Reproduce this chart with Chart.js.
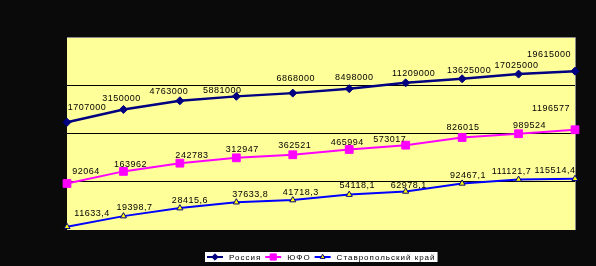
<!DOCTYPE html>
<html>
<head>
<meta charset="utf-8">
<script src="https://cdn.jsdelivr.net/npm/chart.js@4/dist/chart.umd.min.js"></script>
<style>
html, body { margin: 0; padding: 0; background: #0a0a0a; }
canvas { display: block; }
</style>
</head>
<body>
<canvas id="chart" width="596" height="266"></canvas>
<script>
// data
const categories = ['1', '2', '3', '4', '5', '6', '7', '8', '9', '10'];
const russia = [1707000, 3150000, 4763000, 5881000, 6868000, 8498000, 11209000, 13625000, 17025000, 19615000];
const yufo = [92064, 163962, 242783, 312947, 362521, 465994, 573017, 826015, 989524, 1196577];
const stavropol = [11633.4, 19398.7, 28415.6, 37633.8, 41718.3, 54118.1, 62978.1, 92467.1, 111121.7, 115514.4];
const seriesNames = ['Россия', 'ЮФО', 'Ставропольский край'];
const gridValues = [1e4, 1e5, 1e6, 1e7, 1e8];

// label nudges (px) relative to each point, as placed in the original
const labelDx = [
  [20, -2, -11, -14, 3, 5, 8, 7, -2, -26],
  [19, 7, 12, 6, 2, -2, -16, 1, 11, -24],
  [25, 11, 10, 14, 8, 8, 3, 6, -7, -20]
];
const labelDy = [
  [-15, -11, -9, -6, -15, -11, -9, -8, -9, -17],
  [-12, -7, -8, -8, -9, -7, -6, -10, -8, -21],
  [-13, -9, -8, -8, -8, -9, -6, -8, -8, -8]
];

const fmt = v => String(v).replace('.', ',');

const plotBg = {
  id: 'plotBg',
  beforeDraw(chart) {
    const {ctx, chartArea: a} = chart;
    ctx.save();
    ctx.fillStyle = '#ffff99';
    ctx.fillRect(a.left, a.top, a.right - a.left, a.bottom - a.top);
    ctx.strokeStyle = '#8a8a8a';
    ctx.lineWidth = 1;
    ctx.beginPath();
    ctx.moveTo(a.left, a.top + 0.5);
    ctx.lineTo(a.right + 0.5, a.top + 0.5);
    ctx.lineTo(a.right + 0.5, a.bottom);
    ctx.stroke();
    ctx.restore();
  }
};

const pointLabels = {
  id: 'pointLabels',
  afterDatasetsDraw(chart) {
    const ctx = chart.ctx;
    ctx.save();
    ctx.font = '9px "Liberation Sans", Arial, sans-serif';
    ctx.letterSpacing = '0.5px';
    ctx.fillStyle = '#000';
    ctx.textAlign = 'center';
    ctx.textBaseline = 'middle';
    chart.data.datasets.forEach((ds, i) => {
      chart.getDatasetMeta(i).data.forEach((pt, j) => {
        ctx.fillText(fmt(ds.data[j]), pt.x + labelDx[i][j], pt.y + labelDy[i][j]);
      });
    });
    ctx.restore();
  }
};

const boxLegend = {
  id: 'boxLegend',
  afterDraw(chart) {
    const {ctx, chartArea: a} = chart;
    ctx.save();
    ctx.font = '8px "Liberation Sans", Arial, sans-serif';
    ctx.letterSpacing = '1px';
    const symW = 16, gap = 6, itemGap = 4, pad = 2;
    const items = chart.data.datasets.map(ds => ({ds, w: ctx.measureText(ds.label).width}));
    const total = items.reduce((s, it) => s + symW + gap + it.w, 0) + itemGap * (items.length - 1) + pad * 2;
    let x = Math.round((a.left + a.right) / 2 - total / 2);
    const top = 252, h = 10, cy = top + h / 2;
    ctx.fillStyle = '#fff';
    ctx.fillRect(x, top, total, h);
    x += pad;
    items.forEach(it => {
      const ds = it.ds;
      ctx.strokeStyle = ds.borderColor;
      ctx.lineWidth = 2;
      ctx.beginPath();
      ctx.moveTo(x, cy);
      ctx.lineTo(x + symW, cy);
      ctx.stroke();
      ctx.fillStyle = ds.pointBackgroundColor;
      ctx.strokeStyle = ds.pointBorderColor;
      ctx.lineWidth = ds.pointBorderWidth;
      Chart.helpers.drawPoint(ctx, {pointStyle: ds.pointStyle, radius: ds.pointRadius * 0.8, borderWidth: ds.pointBorderWidth, rotation: 0}, x + symW / 2, cy);
      x += symW + gap;
      ctx.fillStyle = '#000';
      ctx.textBaseline = 'middle';
      ctx.fillText(ds.label, x, cy + 0.5);
      x += it.w + itemGap;
    });
    ctx.restore();
  }
};

new Chart(document.getElementById('chart'), {
  type: 'line',
  data: {
    labels: categories,
    datasets: [
      {
        label: seriesNames[0], data: russia,
        borderColor: '#000080', borderWidth: 2.5,
        pointStyle: 'rectRot', pointRadius: 4,
        pointBackgroundColor: '#000080', pointBorderColor: '#000080', pointBorderWidth: 1
      },
      {
        label: seriesNames[1], data: yufo,
        borderColor: '#ff00ff', borderWidth: 2,
        pointStyle: 'rect', pointRadius: 5.5,
        pointBackgroundColor: '#ff00ff', pointBorderColor: '#ff00ff', pointBorderWidth: 1
      },
      {
        label: seriesNames[2], data: stavropol,
        borderColor: '#0000ff', borderWidth: 2,
        pointStyle: 'triangle', pointRadius: 3.5,
        pointBackgroundColor: '#ffff00', pointBorderColor: '#000080', pointBorderWidth: 1
      }
    ]
  },
  options: {
    responsive: false,
    animation: false,
    clip: false,
    layout: { padding: { left: 67, right: 21, top: 37, bottom: 36 } },
    plugins: { legend: { display: false }, tooltip: { enabled: false } },
    elements: { line: { tension: 0 } },
    scales: {
      x: { display: false, offset: false },
      y: {
        type: 'logarithmic', min: 1e4, max: 1e8,
        afterBuildTicks: s => { s.ticks = gridValues.map(v => ({value: v})); },
        ticks: { display: false },
        border: { display: false },
        grid: {
          drawTicks: false,
          color: c => (c.tick && (c.tick.value === 1e4 || c.tick.value === 1e8)) ? 'rgba(0,0,0,0)' : '#000',
          lineWidth: 1
        }
      }
    }
  },
  plugins: [plotBg, pointLabels, boxLegend]
});
</script>
</body>
</html>
